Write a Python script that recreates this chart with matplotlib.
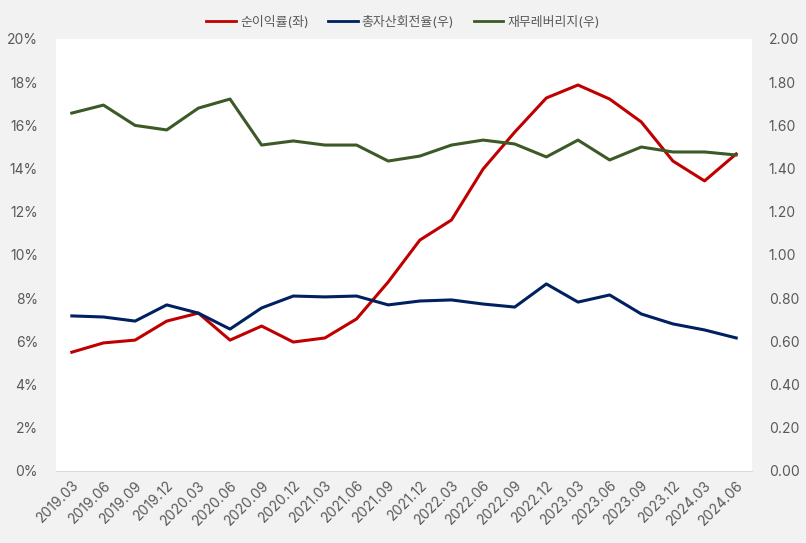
import matplotlib.pyplot as plt
from matplotlib.ticker import FuncFormatter

plt.rcParams["font.family"] = ["Inter", "Noto Sans CJK KR", "DejaVu Sans"]

quarters = [
    "2019.03", "2019.06", "2019.09", "2019.12", "2020.03", "2020.06",
    "2020.09", "2020.12", "2021.03", "2021.06", "2021.09", "2021.12",
    "2022.03", "2022.06", "2022.09", "2022.12", "2023.03", "2023.06",
    "2023.09", "2023.12", "2024.03", "2024.06",
]
net_margin = [
    5.50, 5.93, 6.06, 6.94, 7.31, 6.06, 6.71, 5.97, 6.16, 7.04, 8.75, 10.69,
    11.62, 13.98, 15.69, 17.27, 17.87, 17.22, 16.16, 14.35, 13.43, 14.68,
]
asset_turnover = [
    0.718, 0.713, 0.694, 0.769, 0.731, 0.657, 0.755, 0.810, 0.806, 0.810, 0.769, 0.787,
    0.792, 0.773, 0.759, 0.866, 0.782, 0.815, 0.727, 0.681, 0.653, 0.616,
]
leverage = [
    1.657, 1.694, 1.600, 1.579, 1.680, 1.722, 1.509, 1.528, 1.509, 1.509, 1.435, 1.458,
    1.509, 1.532, 1.514, 1.454, 1.532, 1.440, 1.500, 1.477, 1.477, 1.463,
]

RED = "#C00000"
NAVY = "#002060"
GREEN = "#3B5A27"
BG = "#F2F2F2"
TXT = "#595959"

fig = plt.figure(figsize=(8.06, 5.43), dpi=100, facecolor=BG)
ax = fig.add_axes([56 / 806, 72 / 543, 696 / 806, 432 / 543])
ax2 = ax.twinx()
ax.set_zorder(ax2.get_zorder() - 1)
ax2.patch.set_visible(False)
ax.set_facecolor("white")

x = range(len(quarters))
l1, = ax.plot(x, net_margin, color=RED, lw=2.2, label="순이익률(좌)")
l2, = ax2.plot(x, asset_turnover, color=NAVY, lw=2.2, label="총자산회전율(우)")
l3, = ax2.plot(x, leverage, color=GREEN, lw=2.2, label="재무레버리지(우)")

ax.set_xlim(-0.5, len(quarters) - 0.5)
ax.set_ylim(0, 20)
ax2.set_ylim(0, 2.0)
ax.set_yticks(range(0, 21, 2))
ax2.set_yticks([i / 10 for i in range(0, 21, 2)])
ax.yaxis.set_major_formatter(FuncFormatter(lambda v, p: f"{v:.0f}%"))
ax2.yaxis.set_major_formatter(FuncFormatter(lambda v, p: f"{v:.2f}"))
ax.set_xticks(list(x))
ax.set_xticklabels(quarters, rotation=45, ha="right", rotation_mode="anchor")

for a in (ax, ax2):
    for s in a.spines.values():
        s.set_visible(False)
    a.tick_params(length=0, labelsize=10, colors=TXT)
ax.spines["bottom"].set_visible(True)
ax.spines["bottom"].set_color("#D9D9D9")
ax.tick_params(axis="y", pad=13)
ax2.tick_params(axis="y", pad=12)
ax.tick_params(axis="x", pad=5)

fig.legend(handles=[l1, l2, l3], loc="upper center", bbox_to_anchor=(0.5, 0.992),
           ncol=3, frameon=False, fontsize=9.3, labelcolor=TXT,
           handlelength=2.3, handletextpad=0.3, columnspacing=1.5)
for h in fig.legends[0].get_lines():
    h.set_linewidth(2.0)

fig.savefig("out.png", dpi=100, facecolor=BG)
